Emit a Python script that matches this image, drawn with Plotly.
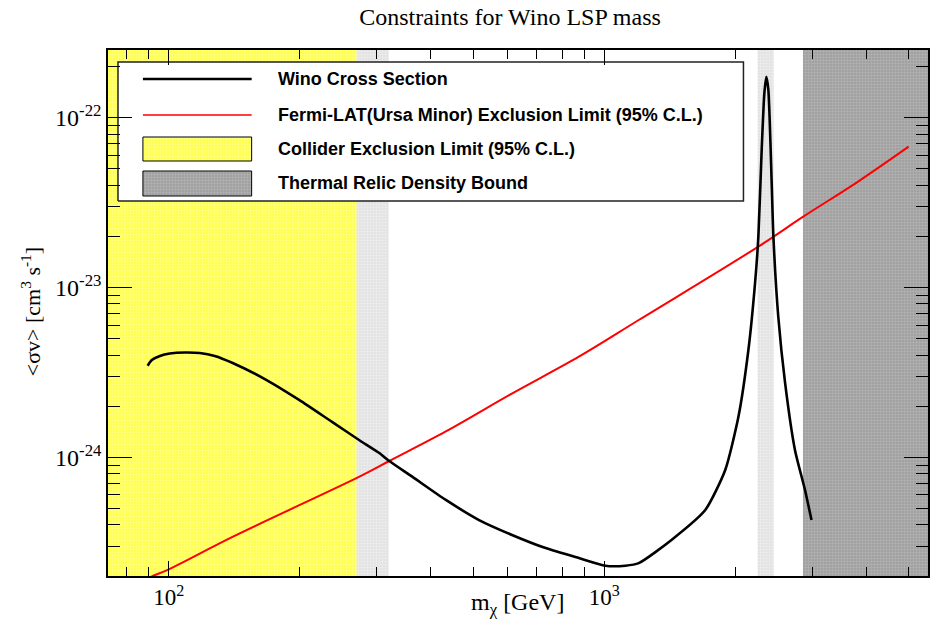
import numpy as np
import plotly.graph_objects as go

# ---------------- data ----------------
wino_mass = [89.4, 91.4, 95.4, 100.5, 108.8, 117.8, 127.5, 140.2, 167.7, 199.6,
             237.5, 274.0, 304.3, 320.8, 362.2, 432.7, 515.8, 614.0, 733.5, 874.3,
             1006, 1118, 1200, 1427, 1706, 1896, 2033, 2143, 2220, 2259,
             2299, 2332, 2357, 2382, 2424, 2446, 2510, 2602, 2742, 2891, 2992]
wino_sigma = [3.46e-24, 3.74e-24, 3.95e-24, 4.08e-24, 4.14e-24, 4.11e-24, 3.95e-24, 3.59e-24, 2.85e-24, 2.17e-24,
              1.61e-24, 1.26e-24, 1.06e-24, 9.51e-25, 7.69e-25, 5.61e-25, 4.27e-25, 3.49e-25, 2.92e-25, 2.55e-25,
              2.30e-25, 2.30e-25, 2.38e-25, 3.26e-25, 4.89e-25, 8.42e-25, 1.73e-24, 4.28e-24, 1.06e-23, 1.99e-23,
              6.45e-23, 1.40e-22, 1.74e-22, 1.45e-22, 4.12e-23, 1.99e-23, 6.72e-24, 2.74e-24, 1.10e-24, 6.42e-25, 4.27e-25]

fermi_mass = [88, 91.9, 100, 140.4, 274.0, 320.8, 432.7, 615, 874.3, 1200, 2259, 2864, 3828, 5000]
fermi_sigma = [1.9e-25, 2.0e-25, 2.19e-25, 3.41e-25, 7.69e-25, 9.51e-25, 1.42e-24, 2.38e-24, 3.91e-24,
               6.43e-24, 1.74e-23, 2.61e-23, 4.20e-23, 6.74e-23]

collider_band = [40, 270]          # GeV, collider exclusion
gray_band_low = [270, 320]         # light grey band
gray_band_peak = [2250, 2450]      # light grey band around resonance
thermal_band = [2860, 9000]        # thermal relic density bound

x_tickvals = [100, 1000]
x_ticktext = ["10<sup>2</sup>", "10<sup>3</sup>"]
x_minor = [80, 90, 200, 300, 400, 500, 600, 700, 800, 900, 2000, 3000, 4000, 5000]
y_tickvals = [1e-24, 1e-23, 1e-22]
y_ticktext = ["10<sup>-24</sup>", "10<sup>-23</sup>", "10<sup>-22</sup>"]
y_minor = [m * 10.0 ** e for e in (-25, -24, -23, -22) for m in range(2, 10)]

legend_labels = ["Wino Cross Section",
                 "Fermi-LAT(Ursa Minor) Exclusion Limit (95% C.L.)",
                 "Collider Exclusion Limit (95% C.L.)",
                 "Thermal Relic Density Bound"]

# ---------------- styles ----------------
YELLOW_PAT = dict(shape=".", bgcolor="#ffff40", fgcolor="#ffffc8", size=3, solidity=0.5)
LGRAY_PAT = dict(shape=".", bgcolor="#e0e0e0", fgcolor="#f8f8f8", size=3, solidity=0.5)
DGRAY_PAT = dict(shape=".", bgcolor="#9c9c9c", fgcolor="#c8c8c8", size=3, solidity=0.5)

YLO, YHI = 1e-26, 1e-20

fig = go.Figure()


def band(xr, pat):
    fig.add_trace(go.Scatter(
        x=[xr[0], xr[1], xr[1], xr[0], xr[0]],
        y=[YLO, YLO, YHI, YHI, YLO],
        mode="lines", line=dict(width=0), fill="toself",
        fillpattern=pat, fillcolor=pat["bgcolor"],
        hoverinfo="skip", showlegend=False))


band(collider_band, YELLOW_PAT)
band(gray_band_low, LGRAY_PAT)
band(gray_band_peak, LGRAY_PAT)
band(thermal_band, DGRAY_PAT)

fig.add_trace(go.Scatter(x=fermi_mass, y=fermi_sigma, mode="lines",
                         line=dict(color="#ff0000", width=2, shape="spline", smoothing=1.0),
                         showlegend=False))
fig.add_trace(go.Scatter(x=wino_mass, y=wino_sigma, mode="lines",
                         line=dict(color="black", width=2.6, shape="spline", smoothing=0.6),
                         showlegend=False))

# ---------------- manual ROOT-style legend (overlay axes in 0..1) ----------------
W, H = 936, 622
L, R, T, B = 108, 6, 50, 46
PW, PH = W - L - R, H - T - B


def px(x):
    return (x - L) / PW


def py(y):
    return (H - B - y) / PH


lx0, lx1, ly0, ly1 = px(118), px(745), py(201), py(62)
fig.add_trace(go.Scatter(x=[lx0, lx1, lx1, lx0, lx0], y=[ly0, ly0, ly1, ly1, ly0],
                         xaxis="x2", yaxis="y2", mode="lines", fill="toself",
                         fillcolor="white", line=dict(color="#222222", width=1.5),
                         hoverinfo="skip", showlegend=False))
sx0, sx1 = px(143), px(252)
fig.add_trace(go.Scatter(x=[sx0, sx1], y=[py(79), py(79)], xaxis="x2", yaxis="y2",
                         mode="lines", line=dict(color="black", width=2.4), showlegend=False))
fig.add_trace(go.Scatter(x=[sx0, sx1], y=[py(115), py(115)], xaxis="x2", yaxis="y2",
                         mode="lines", line=dict(color="#ff0000", width=1.5), showlegend=False))
for (ya, yb), pat in (((137, 161), YELLOW_PAT), ((171, 196), DGRAY_PAT)):
    fig.add_trace(go.Scatter(x=[sx0, sx1, sx1, sx0, sx0], y=[py(yb), py(yb), py(ya), py(ya), py(yb)],
                             xaxis="x2", yaxis="y2", mode="lines", fill="toself",
                             fillpattern=pat, fillcolor=pat["bgcolor"],
                             line=dict(color="black", width=1), hoverinfo="skip", showlegend=False))

annotations = []
for lab, yy in zip(legend_labels, (79, 115, 149, 183)):
    annotations.append(dict(text=lab, xref="paper", yref="paper", x=px(276), y=py(yy),
                            xanchor="left", yanchor="middle", showarrow=False,
                            font=dict(family="Liberation Sans", size=18, color="black", weight="bold")))

# axis titles
annotations.append(dict(text="m<sub>χ</sub> [GeV]", xref="paper", yref="paper",
                        x=px(518), y=py(604), xanchor="center", yanchor="middle", showarrow=False,
                        font=dict(family="Liberation Serif", size=24, color="black")))
annotations.append(dict(text="&lt;σv&gt; [cm<sup>3</sup> s<sup>-1</sup>]", xref="paper", yref="paper",
                        x=px(31), y=py(312), xanchor="center", yanchor="middle", showarrow=False,
                        textangle=-90,
                        font=dict(family="Liberation Serif", size=22, color="black")))

axis_common = dict(showline=True, linecolor="black", linewidth=1.5, mirror="ticks",
                   ticks="inside", tickwidth=1, tickcolor="black", showgrid=False, zeroline=False)

fig.update_layout(
    width=W, height=H,
    margin=dict(l=L, r=R, t=T, b=B),
    paper_bgcolor="white", plot_bgcolor="white",
    title=dict(text="Constraints for Wino LSP mass", x=px(511), xref="paper", xanchor="center",
               y=1 - 17 / H, yref="container", yanchor="middle",
               font=dict(family="Liberation Serif", size=24, color="black")),
    xaxis=dict(type="log", range=[np.log10(72.5), np.log10(5540)],
               tickmode="array", tickvals=x_tickvals, ticktext=x_ticktext, ticklen=15,
               tickfont=dict(family="Liberation Serif", size=23, color="black"),
               minor=dict(tickmode="array", tickvals=x_minor, ticks="inside", ticklen=9,
                          tickwidth=1, tickcolor="black", showgrid=False),
               **axis_common),
    yaxis=dict(type="log", range=[np.log10(2e-25), np.log10(2.5e-22)],
               tickmode="array", tickvals=y_tickvals, ticktext=y_ticktext, ticklen=24,
               tickfont=dict(family="Liberation Serif", size=24, color="black"),
               minor=dict(tickmode="array", tickvals=y_minor, ticks="inside", ticklen=12,
                          tickwidth=1, tickcolor="black", showgrid=False),
               **axis_common),
    xaxis2=dict(overlaying="x", anchor="y2", range=[0, 1], visible=False, fixedrange=True),
    yaxis2=dict(overlaying="y", anchor="x2", range=[0, 1], visible=False, fixedrange=True),
    annotations=annotations,
    showlegend=False,
)

fig.write_html("out.html")
